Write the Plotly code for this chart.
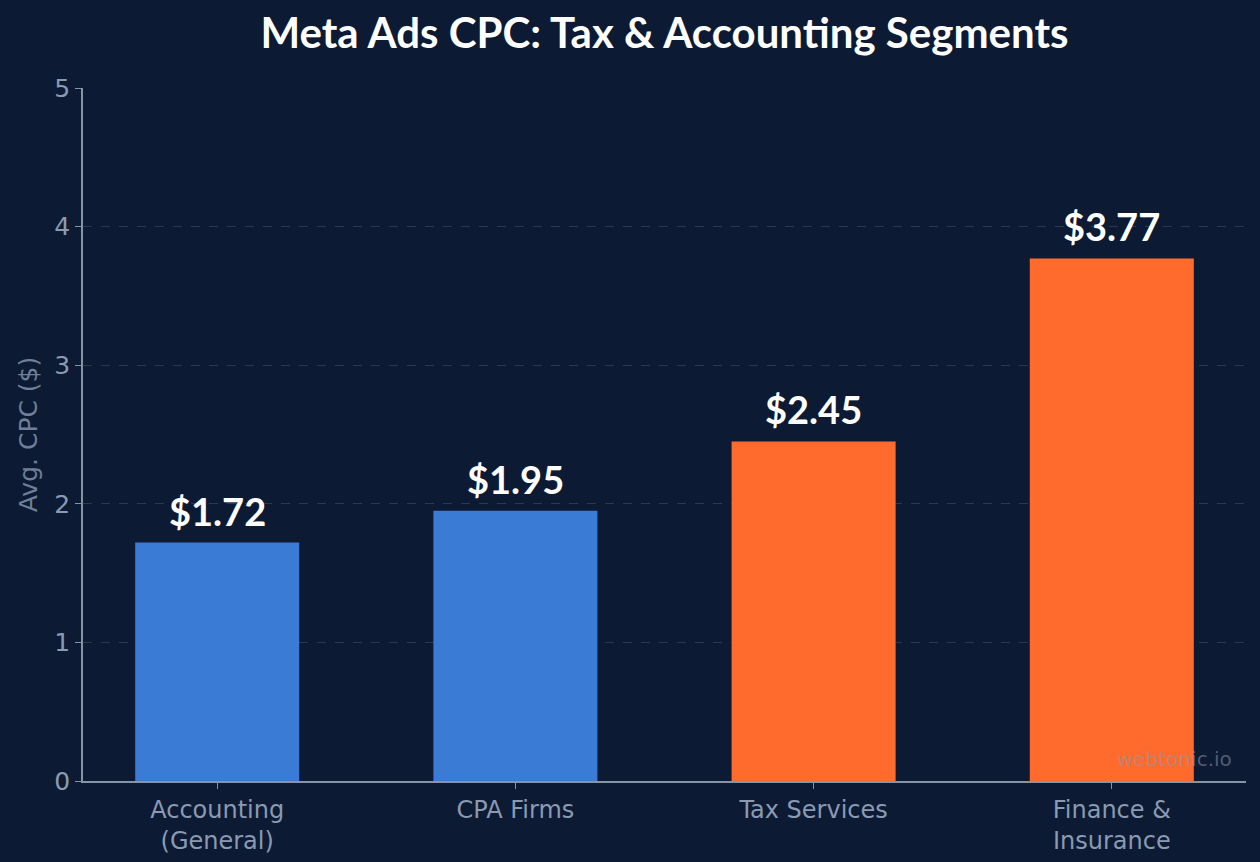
import plotly.graph_objects as go

categories = ["Accounting<br>(General)", "CPA Firms", "Tax Services", "Finance &<br>Insurance"]
cpc_values = [1.72, 1.95, 2.45, 3.77]
bar_colors = ["#3a7bd5", "#3a7bd5", "#ff6b2c", "#ff6b2c"]
value_labels = ["$%.2f" % v for v in cpc_values]
y_ticks = [0, 1, 2, 3, 4, 5]

BG = "#0c1b33"
AX = "#8893a6"
TICK = "#8a9ab2"

fig = go.Figure(go.Bar(
    x=categories, y=cpc_values, marker=dict(color=bar_colors, line=dict(width=0)),
    width=0.55, hoverinfo="x+y",
))

for c, v, t in zip(categories, cpc_values, value_labels):
    fig.add_annotation(
        x=c, y=v, text="<b>%s</b>" % t, showarrow=False,
        xanchor="center", yanchor="bottom", yshift=7,
        font=dict(family="Lato", size=38, color="white"),
    )

fig.update_layout(
    width=1260, height=862,
    paper_bgcolor=BG, plot_bgcolor=BG,
    margin=dict(l=83, r=14, t=88, b=81),
    title=dict(text="<b>Meta Ads CPC: Tax & Accounting Segments</b>", x=0.5, xref="paper",
               xanchor="center", y=1 - 33 / 862, yanchor="middle",
               font=dict(family="Lato", size=42, color="white")),
    showlegend=False,
)
fig.update_xaxes(
    range=[-0.45, 3.45], showline=True, linecolor=AX, linewidth=1.5,
    ticks="outside", ticklen=6, tickcolor=AX, showgrid=False, automargin=False,
    tickfont=dict(family="DejaVu Sans", size=24, color=TICK),
)
fig.update_yaxes(
    range=[0, 5], tickvals=y_ticks, showline=True, linecolor=AX, linewidth=1.5,
    ticks="outside", ticklen=6, tickcolor=AX, automargin=False,
    showgrid=True, gridcolor="rgba(136,147,166,0.25)", griddash="dash", gridwidth=1,
    zeroline=False,
    tickfont=dict(family="DejaVu Sans", size=25, color=TICK),
    title=dict(text="Avg. CPC ($)", font=dict(family="DejaVu Sans", size=25, color="#6f7f98"), standoff=10),
)
fig.add_annotation(
    text="webtonic.io", xref="paper", yref="paper", x=0.99, y=0.012,
    xanchor="right", yanchor="bottom", showarrow=False,
    font=dict(family="DejaVu Sans", size=20, color="rgba(140,150,165,0.55)"),
)
fig.write_html("out.html")
